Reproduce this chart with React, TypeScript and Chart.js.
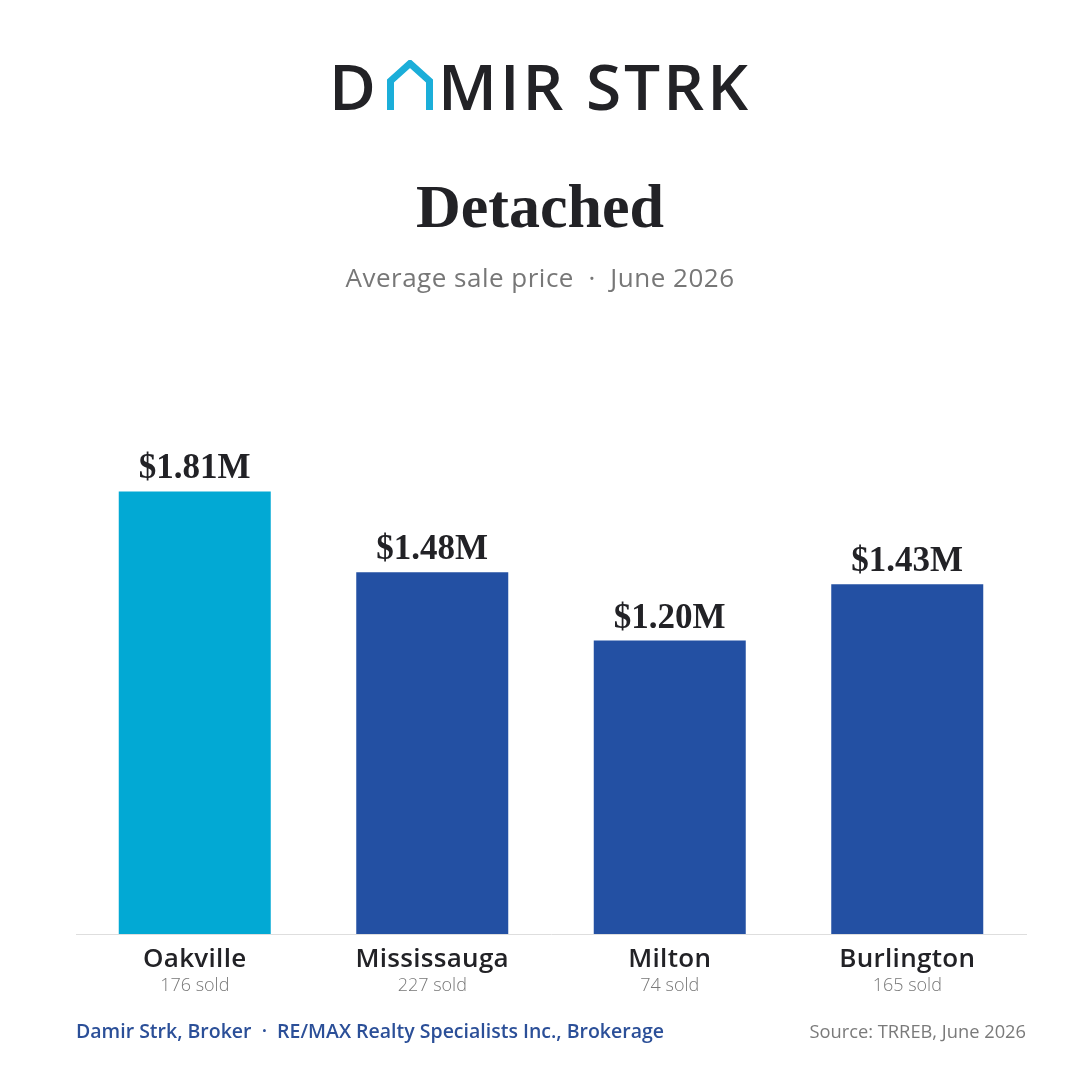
import React, { useEffect, useRef } from "react";
import { Chart, registerables } from "chart.js";

Chart.register(...registerables);

const cities = ["Oakville", "Mississauga", "Milton", "Burlington"];
const avgPriceMillions = [1.81, 1.48, 1.2, 1.43];
const soldCounts = [176, 227, 74, 165];
const barColors = ["#02A9D4", "#2350A3", "#2350A3", "#2350A3"];

const SANS = "'Open Sans', 'Noto Sans', sans-serif";
const SERIF = "'Liberation Serif', 'DejaVu Serif', serif";

const labelsPlugin = {
  id: "barLabels",
  afterDatasetsDraw(chart: any) {
    const { ctx } = chart;
    const meta = chart.getDatasetMeta(0);
    const xScale = chart.scales.x;
    const bottom = chart.chartArea.bottom;
    ctx.save();
    ctx.textAlign = "center";
    meta.data.forEach((bar: any, i: number) => {
      // value above each bar
      ctx.fillStyle = "#222226";
      ctx.font = `bold 35px ${SERIF}`;
      ctx.textBaseline = "alphabetic";
      ctx.fillText(`$${avgPriceMillions[i].toFixed(2)}M`, bar.x, bar.y - 13);
      // category and sales count under the axis
      const cx = xScale.getPixelForValue(i);
      ctx.fillStyle = "#222226";
      ctx.font = `600 26px ${SANS}`;
      ctx.textBaseline = "middle";
      (ctx as any).letterSpacing = "0.3px";
      ctx.fillText(cities[i], cx, bottom + 26);
      (ctx as any).letterSpacing = "0px";
      ctx.fillStyle = "#777777";
      ctx.font = `300 18px ${SANS}`;
      ctx.fillText(`${soldCounts[i]} sold`, cx, bottom + 52);
    });
    ctx.restore();
  },
};

function House() {
  return (
    <svg width="46" height="50" viewBox="0 0 46 50" style={{ margin: "0 5px 0 8px", display: "block" }}>
      <polyline
        points="3.5,50 3.5,21 23,3.5 42.5,21 42.5,50"
        fill="none"
        stroke="#1BAED9"
        strokeWidth="7"
        strokeLinejoin="miter"
      />
    </svg>
  );
}

export default function App() {
  const canvasRef = useRef<HTMLCanvasElement | null>(null);

  useEffect(() => {
    if (!canvasRef.current) return;
    const chart = new Chart(canvasRef.current, {
      type: "bar",
      data: {
        labels: cities,
        datasets: [
          {
            data: avgPriceMillions,
            backgroundColor: barColors,
            borderWidth: 0,
            categoryPercentage: 1,
            barPercentage: 0.64,
          },
        ],
      },
      options: {
        animation: false,
        responsive: false,
        layout: { padding: { left: 76, right: 54, top: 445, bottom: 138 } },
        plugins: { legend: { display: false }, tooltip: { enabled: false } },
        scales: {
          x: {
            grid: { display: false },
            ticks: { display: false },
            border: { display: true, color: "#dedede", width: 1 },
          },
          y: { display: false, min: 0, max: 2 },
        },
      },
      plugins: [labelsPlugin],
    });
    return () => chart.destroy();
  }, []);

  return (
    <div
      style={{
        position: "fixed",
        left: 0,
        top: 0,
        width: 1080,
        height: 1080,
        background: "#ffffff",
        overflow: "hidden",
      }}
    >
      <canvas ref={canvasRef} width={1080} height={1080} style={{ position: "absolute", left: 0, top: 0 }} />
      <div
        style={{
          position: "absolute",
          top: 58,
          left: 0,
          width: 1080,
          display: "flex",
          justifyContent: "center",
          alignItems: "flex-end",
          height: 52,
          color: "#222226",
          fontFamily: SANS,
          fontWeight: 600,
          fontSize: 64,
          lineHeight: "52px",
          letterSpacing: 3,
        }}
      >
        <span style={{ lineHeight: "64px", marginBottom: -8 }}>D</span>
        <House />
        <span style={{ lineHeight: "64px", marginBottom: -8 }}>MIR STRK</span>
      </div>
      <div
        style={{
          position: "absolute",
          top: 170,
          left: 0,
          width: 1080,
          textAlign: "center",
          fontFamily: SERIF,
          fontWeight: 700,
          fontSize: 62,
          lineHeight: "72px",
          color: "#222226",
        }}
      >
        Detached
      </div>
      <div
        style={{
          position: "absolute",
          top: 261,
          left: 0,
          width: 1080,
          textAlign: "center",
          fontFamily: SANS,
          fontSize: 26,
          lineHeight: "32px",
          letterSpacing: 0.5,
          color: "#777777",
        }}
      >
        Average sale price &nbsp;·&nbsp; June 2026
      </div>
      <div
        style={{
          position: "absolute",
          top: 1018,
          left: 76,
          fontFamily: SANS,
          fontWeight: 600,
          fontSize: 19.5,
          lineHeight: "26px",
          color: "#2B4F98",
          whiteSpace: "pre",
        }}
      >
        {"Damir Strk, Broker  ·  RE/MAX Realty Specialists Inc., Brokerage"}
      </div>
      <div
        style={{
          position: "absolute",
          top: 1018,
          right: 54,
          fontFamily: SANS,
          fontSize: 18.3,
          lineHeight: "26px",
          color: "#7a7a7a",
        }}
      >
        Source: TRREB, June 2026
      </div>
    </div>
  );
}
